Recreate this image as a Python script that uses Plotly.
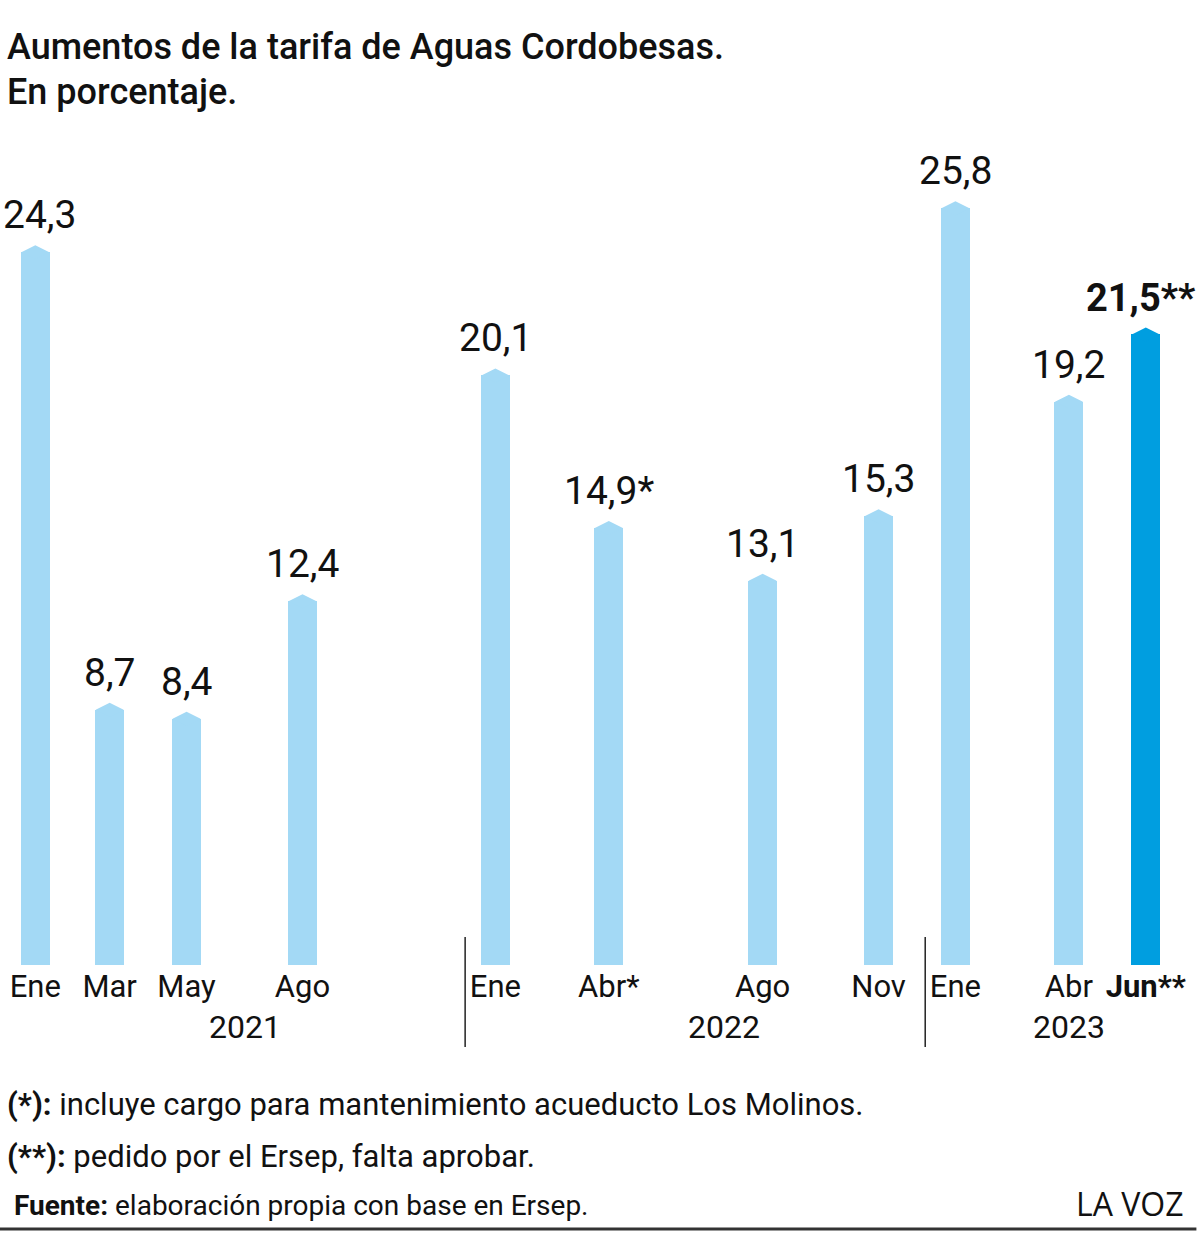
import plotly.graph_objects as go
import pandas as pd

# ---------------- data ----------------
months = ["2021-01-01", "2021-03-01", "2021-05-01", "2021-08-01",
          "2022-01-01", "2022-04-01", "2022-08-01", "2022-11-01",
          "2023-01-01", "2023-04-01", "2023-06-01"]
month_labels = ["Ene", "Mar", "May", "Ago", "Ene", "Abr*", "Ago", "Nov",
                "Ene", "Abr", "<b>Jun**</b>"]
values = [24.3, 8.7, 8.4, 12.4, 20.1, 14.9, 13.1, 15.3, 25.8, 19.2, 21.5]
value_labels = ["24,3", "8,7", "8,4", "12,4", "20,1", "14,9*", "13,1", "15,3",
                "25,8", "19,2", "<b>21,5**</b>"]
highlight = [False] * 10 + [True]
years = ["2021", "2022", "2023"]
year_label_dates = ["2021-06-16", "2022-07-01", "2023-04-01"]
separator_years = [2022, 2023]

# ---------------- style ----------------
W, H = 1200, 1235
T, B = 130, 270
BASE_PX = H - B
PLOT_H = BASE_PX - T
FONT = "Roboto, Liberation Sans, sans-serif"
LIGHT = "#A3D9F5"
DARK = "#009EE0"
TXT = "#111111"


def py(p):
    return (BASE_PX - p) / PLOT_H


colors = [DARK if h else LIGHT for h in highlight]
bar_w = 23 * 24 * 3600 * 1000
n = len(values)

fig = go.Figure()
fig.add_trace(go.Bar(x=months, y=values, marker=dict(color=colors, line_width=0),
                     width=bar_w, hoverinfo="skip"))
fig.add_trace(go.Scatter(x=months, y=values, mode="markers",
                         marker=dict(symbol="diamond-wide", size=20, color=colors, line_width=0),
                         hoverinfo="skip"))

ann = []
for i, (m, v, lab, h) in enumerate(zip(months, values, value_labels, highlight)):
    xs = 4 if i == 0 else (-5 if i == n - 1 else 0)
    ann.append(dict(x=m, y=v, xref="x", yref="y", text=lab, showarrow=False,
                    xanchor="center", yanchor="bottom", yshift=12, xshift=xs,
                    font=dict(family=FONT, size=38 if h else 39, color=TXT)))
for yl, yd in zip(years, year_label_dates):
    ann.append(dict(x=yd, y=py(1027), xref="x", yref="paper", text=yl, showarrow=False,
                    xanchor="center", yanchor="middle",
                    font=dict(family=FONT, size=32, color=TXT)))

ann += [
    dict(x=0.004, y=py(47), xref="paper", yref="paper", xanchor="left", yanchor="middle",
         text="Aumentos de la tarifa de Aguas Cordobesas.", showarrow=False,
         font=dict(family=FONT, size=36, color=TXT, weight=500)),
    dict(x=0.004, y=py(92), xref="paper", yref="paper", xanchor="left", yanchor="middle",
         text="En porcentaje.", showarrow=False,
         font=dict(family=FONT, size=36, color=TXT, weight=500)),
    dict(x=0.004, y=py(1104), xref="paper", yref="paper", xanchor="left", yanchor="middle",
         text="<b>(*):</b> incluye cargo para mantenimiento acueducto Los Molinos.", showarrow=False,
         font=dict(family=FONT, size=31, color=TXT)),
    dict(x=0.004, y=py(1156), xref="paper", yref="paper", xanchor="left", yanchor="middle",
         text="<b>(**):</b> pedido por el Ersep, falta aprobar.", showarrow=False,
         font=dict(family=FONT, size=31, color=TXT)),
    dict(x=0.01, y=py(1205), xref="paper", yref="paper", xanchor="left", yanchor="middle",
         text="<b>Fuente:</b> elaboración propia con base en Ersep.", showarrow=False,
         font=dict(family=FONT, size=28, color=TXT)),
    dict(x=0.988, y=py(1203), xref="paper", yref="paper", xanchor="right", yanchor="middle",
         text="LA VOZ", showarrow=False,
         font=dict(family="Open Sans, Noto Sans, sans-serif", size=32, color=TXT)),
]

shapes = []
for yr in separator_years:
    xd = pd.Timestamp(f"{yr}-01-01") - pd.Timedelta(days=24)
    shapes.append(dict(type="line", xref="x", yref="paper", x0=xd, x1=xd,
                       y0=py(1047), y1=py(937),
                       line=dict(color="#222222", width=1.5)))
shapes.append(dict(type="line", xref="paper", yref="paper", x0=0, x1=0.997,
                   y0=py(1229), y1=py(1229), line=dict(color="#333333", width=3)))

fig.update_layout(
    width=W, height=H, margin=dict(l=0, r=0, t=T, b=B),
    paper_bgcolor="white", plot_bgcolor="white", showlegend=False,
    annotations=ann, shapes=shapes, bargap=0,
    xaxis=dict(type="date", range=["2020-12-04", "2023-07-14"],
               tickmode="array", tickvals=months, ticktext=month_labels,
               showgrid=False, zeroline=False, showline=False, ticks="",
               tickfont=dict(family=FONT, size=31, color=TXT)),
    yaxis=dict(range=[0, PLOT_H / 29.33], visible=False, showgrid=False, zeroline=False),
)

fig.write_html("out.html")
